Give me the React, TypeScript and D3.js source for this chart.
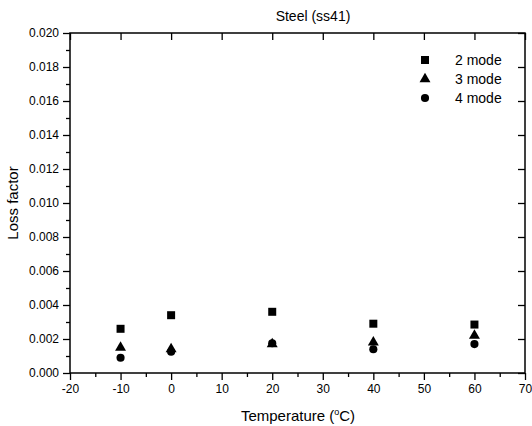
import React, { useRef, useEffect } from 'react';
import * as d3 from 'd3';

// data
const temps = [-10, 0, 20, 40, 60];
const mode2 = [0.0026, 0.0034, 0.0036, 0.0029, 0.00285];
const mode3 = [0.0015, 0.0014, 0.0017, 0.0018, 0.0022];
const mode4 = [0.0009, 0.00125, 0.00175, 0.0014, 0.0017];
const seriesNames = ['2 mode', '3 mode', '4 mode'];
const xTicks = [-20, -10, 0, 10, 20, 30, 40, 50, 60, 70];
const xMinor = [-15, -5, 5, 15, 25, 35, 45, 55, 65];
const yTicks = [0, 0.002, 0.004, 0.006, 0.008, 0.01, 0.012, 0.014, 0.016, 0.018, 0.02];
const yMinor = [0.001, 0.003, 0.005, 0.007, 0.009, 0.011, 0.013, 0.015, 0.017, 0.019];

export default function App() {
  const ref = useRef<SVGSVGElement>(null);

  useEffect(() => {
    const svg = d3.select(ref.current);
    svg.selectAll('*').remove();

    const width = 532, height = 426;
    const margin = { top: 33, right: 7, bottom: 53, left: 70 };
    const w = width - margin.left - margin.right;
    const h = height - margin.top - margin.bottom;
    const font = '"Liberation Sans", Arial, Helvetica, sans-serif';

    const x = d3.scaleLinear().domain([-20, 70]).range([0, w]);
    const y = d3.scaleLinear().domain([0, 0.02]).range([h, 0]);

    const styleAxis = (sel: any) => {
      sel.select('.domain').remove();
      sel.selectAll('line').attr('stroke', '#000').attr('stroke-width', 1.3);
      sel.selectAll('text').attr('fill', '#000').style('font-family', font).style('font-size', '12px');
    };

    const g = svg.append('g')
      .attr('transform', `translate(${margin.left},${margin.top})`);

    // bottom axis (plain hyphen for negatives, like the original)
    g.append('g')
      .attr('transform', `translate(0,${h})`)
      .call(d3.axisBottom(x).tickValues(xTicks).tickSize(7).tickPadding(4).tickFormat(d => String(d)))
      .call(styleAxis);
    g.append('g')
      .attr('transform', `translate(0,${h})`)
      .call(d3.axisBottom(x).tickValues(xMinor).tickSize(4).tickFormat(() => ''))
      .call(styleAxis);

    // left axis
    g.append('g')
      .call(d3.axisLeft(y).tickValues(yTicks).tickSize(7).tickPadding(4).tickFormat(d3.format('.3f')))
      .call(styleAxis);
    g.append('g')
      .call(d3.axisLeft(y).tickValues(yMinor).tickSize(4).tickFormat(() => ''))
      .call(styleAxis);

    // top & right axes, inward ticks
    g.append('g')
      .call(d3.axisTop(x).tickValues(xTicks).tickSize(-7).tickFormat(() => ''))
      .call(styleAxis);
    g.append('g')
      .attr('transform', `translate(${w},0)`)
      .call(d3.axisRight(y).tickValues(yTicks).tickSize(-7).tickFormat(() => ''))
      .call(styleAxis);

    // frame
    g.append('rect')
      .attr('width', w)
      .attr('height', h)
      .attr('fill', 'none')
      .attr('stroke', '#000')
      .attr('stroke-width', 1.5);

    const series = [mode2, mode3, mode4];
    const symbols = [
      d3.symbol().type(d3.symbolSquare).size(64),
      d3.symbol().type(d3.symbolTriangle).size(52),
      d3.symbol().type(d3.symbolCircle).size(52),
    ];

    series.forEach((vals, i) => {
      g.append('g')
        .selectAll('path')
        .data(temps.map((t, j) => ({ t, v: vals[j] })))
        .join('path')
        .attr('transform', d => `translate(${x(d.t)},${y(d.v)})`)
        .attr('d', symbols[i]())
        .attr('fill', '#000');
    });

    // legend
    const legend = g.append('g').attr('transform', `translate(${355},${27})`);
    seriesNames.forEach((name, i) => {
      const row = legend.append('g').attr('transform', `translate(0,${i * 19})`);
      row.append('path').attr('d', symbols[i]()).attr('fill', '#000');
      row.append('text')
        .attr('x', 30)
        .attr('y', 5)
        .style('font-family', font)
        .style('font-size', '14px')
        .text(name);
    });

    // title
    svg.append('text')
      .attr('x', 313)
      .attr('y', 21)
      .attr('text-anchor', 'middle')
      .style('font-family', font)
      .style('font-size', '14px')
      .text('Steel (ss41)');

    // axis labels
    const xl = svg.append('text')
      .attr('x', 298)
      .attr('y', 421)
      .attr('text-anchor', 'middle')
      .style('font-family', font)
      .style('font-size', '15px');
    xl.append('tspan').text('Temperature (');
    xl.append('tspan').attr('dy', -6).style('font-size', '9px').text('o');
    xl.append('tspan').attr('dy', 6).text('C)');

    svg.append('text')
      .attr('transform', 'rotate(-90)')
      .attr('x', -(margin.top + h / 2))
      .attr('y', 18)
      .attr('text-anchor', 'middle')
      .style('font-family', font)
      .style('font-size', '15px')
      .text('Loss factor');
  }, []);

  return (
    <svg
      ref={ref}
      width={532}
      height={426}
      style={{ position: 'absolute', left: 0, top: 0, background: '#fff' }}
    />
  );
}
